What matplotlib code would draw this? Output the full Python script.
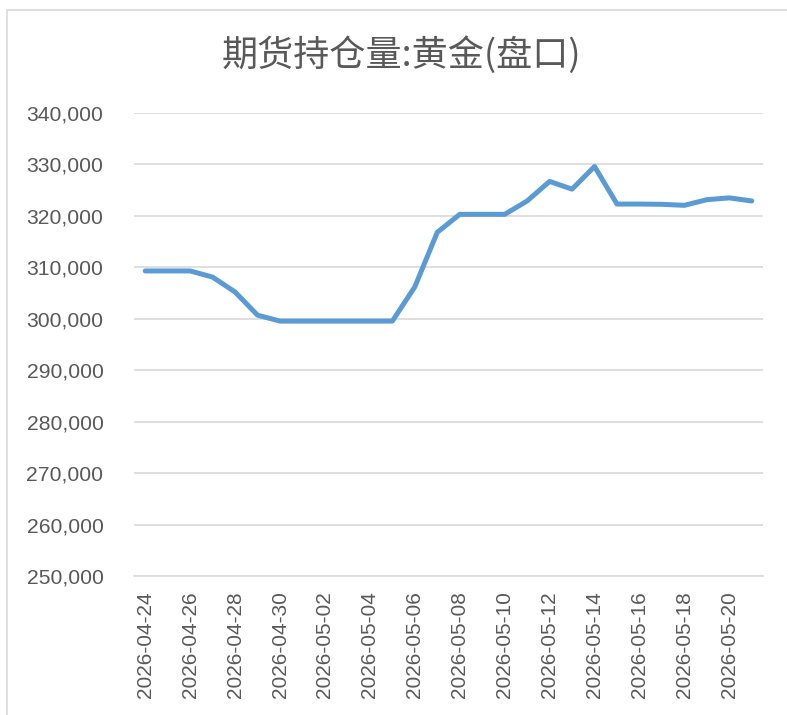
import matplotlib.pyplot as plt
from matplotlib.patches import Rectangle
import numpy as np

plt.rcParams['font.family'] = ['Noto Sans CJK SC', 'DejaVu Sans']

# 日期 (每日)
dates = [
    "2026-04-24", "2026-04-25", "2026-04-26", "2026-04-27", "2026-04-28",
    "2026-04-29", "2026-04-30", "2026-05-01", "2026-05-02", "2026-05-03",
    "2026-05-04", "2026-05-05", "2026-05-06", "2026-05-07", "2026-05-08",
    "2026-05-09", "2026-05-10", "2026-05-11", "2026-05-12", "2026-05-13",
    "2026-05-14", "2026-05-15", "2026-05-16", "2026-05-17", "2026-05-18",
    "2026-05-19", "2026-05-20", "2026-05-21",
]
# 持仓量 (手)
open_interest = [
    309300, 309300, 309300, 308100, 305200,
    300700, 299550, 299550, 299550, 299550,
    299550, 299550, 306200, 316800, 320300,
    320300, 320300, 322900, 326700, 325200,
    329600, 322300, 322300, 322250, 322050,
    323150, 323500, 322900,
]
y_ticks = list(range(250000, 340001, 10000))

title = "期货持仓量:黄金(盘口)"
line_color = "#5B9BD5"
text_color = "#595959"
grid_color = "#D9D9D9"

fig = plt.figure(figsize=(7.87, 7.15), dpi=100)
fig.patches.append(Rectangle((7 / 787, -0.05), 1.2, 1 - 10 / 715 + 0.05,
                             transform=fig.transFigure, fill=False,
                             edgecolor=grid_color, linewidth=1.2))

ax = fig.add_axes([134 / 787, 1 - 576 / 715, (763 - 134) / 787, (576 - 113) / 715])

x = np.arange(len(dates))
ax.plot(x, open_interest, color=line_color, linewidth=3.6,
        solid_capstyle='round', solid_joinstyle='round', zorder=3)

ax.set_xlim(-0.5, len(dates) - 0.5)
ax.set_ylim(y_ticks[0], y_ticks[-1])
ax.set_yticks(y_ticks)
ax.set_yticklabels([f"{v:,}" for v in y_ticks], family='Liberation Sans')
ax.set_xticks(x[::2])
ax.set_xticklabels(dates[::2], rotation=90, family='Liberation Sans')

ax.tick_params(axis='y', length=0, pad=22, labelsize=15.2, labelcolor=text_color)
ax.tick_params(axis='x', length=0, pad=11, labelsize=15, labelcolor=text_color)
ax.grid(axis='y', color=grid_color, linewidth=1.2)
ax.set_axisbelow(True)
for s in ['top', 'right', 'left']:
    ax.spines[s].set_visible(False)
ax.spines['bottom'].set_color(grid_color)
ax.spines['bottom'].set_linewidth(1.2)

fig.text(401 / 787, 1 - 55 / 715, title, ha='center', va='center',
         fontsize=26, color=text_color)

fig.savefig("out.png", dpi=100)
